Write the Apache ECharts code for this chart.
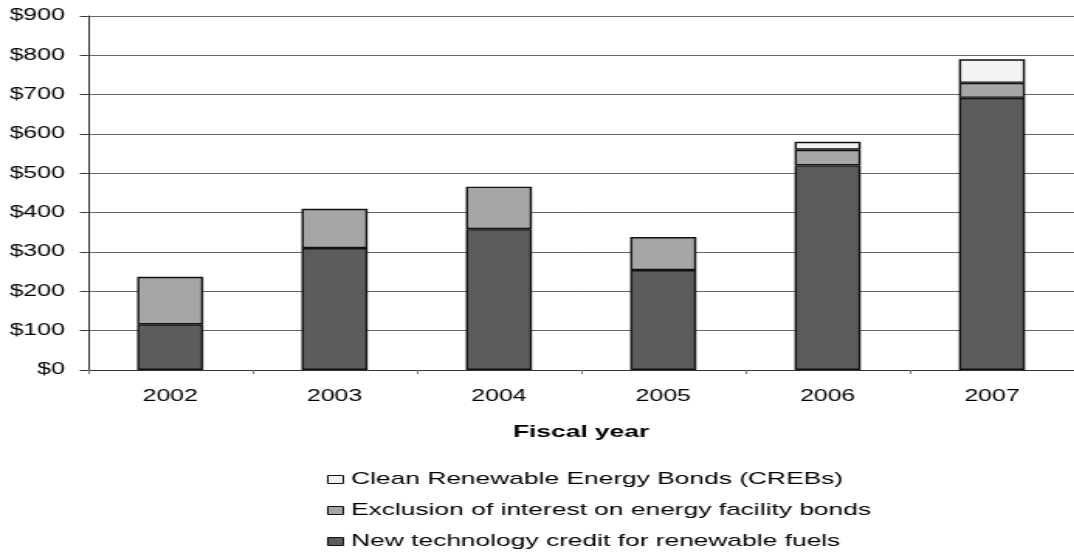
<!DOCTYPE html>
<html><head><meta charset="utf-8">
<script src="https://cdn.jsdelivr.net/npm/echarts@6/dist/echarts.min.js"></script>
<style>
html,body{margin:0;padding:0;background:#fff;overflow:hidden;}
#wrap{width:1074px;height:555px;overflow:hidden;position:relative;}
#chart{width:693px;height:555px;transform:scaleX(1.55);transform-origin:0 0;}
</style></head><body>
<div id="wrap"><div id="chart"></div></div>
<script>
// Data (millions of dollars)
const categories = ['2002', '2003', '2004', '2005', '2006', '2007'];
const newTechCredit = [116, 310, 358, 254, 520, 692];
const exclusionInterest = [121, 100, 108, 84, 40, 38];
const crebs = [null, null, null, null, 20, 60];
const seriesNames = [
  'Clean Renewable Energy Bonds (CREBs)',
  'Exclusion of interest on energy facility bonds',
  'New technology credit for renewable fuels'
];
const yMin = 0, yMax = 900, yStep = 100;
const xTitle = 'Fiscal year';

const FONT = '"Liberation Sans", Arial, sans-serif';
const chart = echarts.init(document.getElementById('chart'), null, {renderer: 'canvas'});
const barStyle = (c) => ({color: c, borderColor: '#111', borderWidth: 1.4});

chart.setOption({
  animation: false,
  backgroundColor: '#fff',
  grid: {left: 56.8, top: 16, width: 640.6, height: 354, containLabel: false},
  legend: {
    orient: 'vertical',
    left: 206,
    top: 466,
    height: 89,
    padding: [5, 5, 0, 5],
    itemWidth: 10,
    itemHeight: 8,
    itemGap: 14,
    icon: 'rect',
    data: seriesNames,
    textStyle: {fontFamily: FONT, fontSize: 17, color: '#000', lineHeight: 17},
    itemStyle: {borderColor: '#111', borderWidth: 1}
  },
  xAxis: {
    type: 'category',
    data: categories,
    name: xTitle,
    nameLocation: 'middle',
    nameGap: 54,
    nameTextStyle: {fontFamily: FONT, fontSize: 17, fontWeight: 'bold', color: '#000'},
    axisLine: {lineStyle: {color: '#333', width: 1}},
    axisTick: {show: true, length: 4, lineStyle: {color: '#777'}},
    axisLabel: {fontFamily: FONT, fontSize: 16, color: '#000', margin: 19},
    splitLine: {show: false}
  },
  yAxis: {
    type: 'value',
    min: yMin, max: yMax, interval: yStep,
    axisLine: {show: true, lineStyle: {color: '#333', width: 1}},
    axisTick: {show: true, length: 5.2, lineStyle: {color: '#333'}},
    axisLabel: {fontFamily: FONT, fontSize: 16, color: '#000', margin: 15,
      formatter: (v) => '$' + v},
    splitLine: {show: true, lineStyle: {color: '#666', width: 1}}
  },
  series: [
    {name: seriesNames[2], type: 'bar', stack: 'total', data: newTechCredit,
      barWidth: 42.6, itemStyle: barStyle('#5c5c5c')},
    {name: seriesNames[1], type: 'bar', stack: 'total', data: exclusionInterest,
      barWidth: 42.6, itemStyle: barStyle('#a6a6a6')},
    {name: seriesNames[0], type: 'bar', stack: 'total', data: crebs,
      barWidth: 42.6, itemStyle: barStyle('#f2f2f2')}
  ]
});
</script>
</body></html>
